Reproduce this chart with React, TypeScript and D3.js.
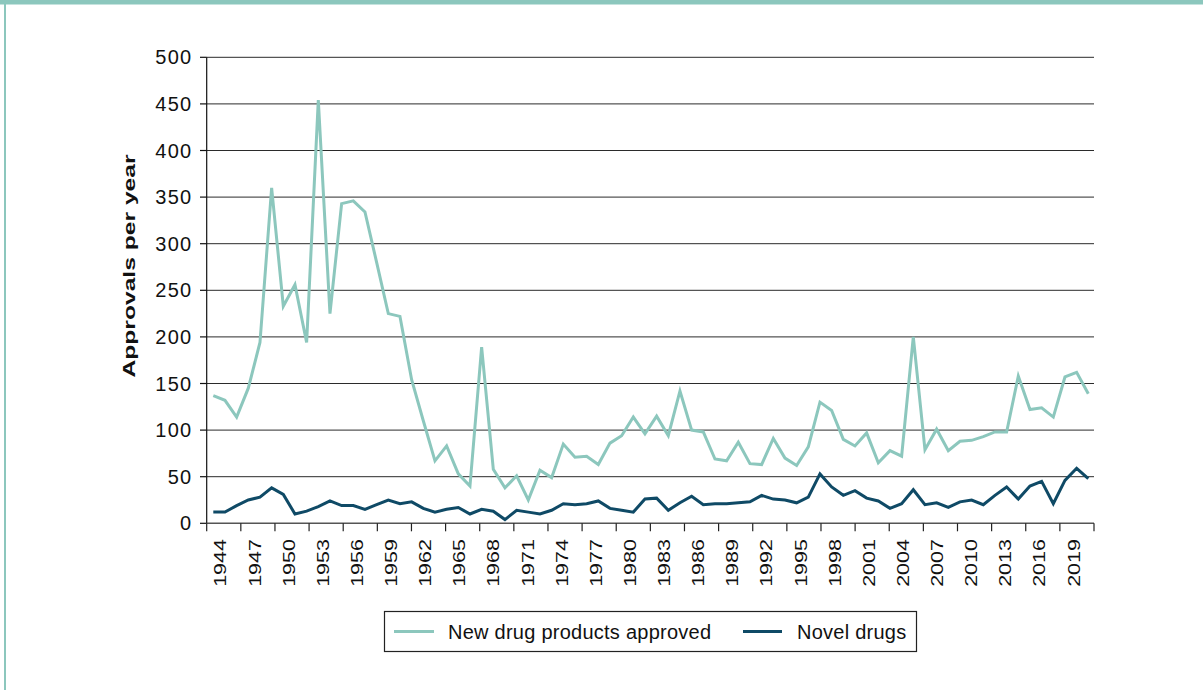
import React from "react";
import * as d3 from "d3";

// ---- Data ----
const years: number[] = d3.range(1944, 2020); // 1944..2019
const axisCategories: number[] = d3.range(1944, 2022); // category axis 1944..2021
const tickLabelYears: number[] = axisCategories.filter((y) => (y - 1944) % 3 === 0 && y <= 2019);

const newDrugProducts: number[] = [
  137, 132, 114, 145, 194, 360, 233, 256, 194, 454, 225, 343, 346, 334, 280, 225, 222, 154,
  110, 67, 83, 53, 40, 189, 58, 38, 51, 25, 57, 49, 85, 71, 72, 63, 86, 94,
  114, 96, 115, 94, 142, 100, 98, 69, 67, 87, 64, 63, 91, 70, 62, 82, 130, 121,
  90, 83, 97, 65, 78, 72, 200, 79, 101, 78, 88, 89, 93, 98, 98, 158, 122, 124, 114, 157, 162, 139,
];

const novelDrugs: number[] = [
  12, 12, 19, 25, 28, 38, 31, 10, 13, 18, 24, 19, 19, 15, 20, 25, 21, 23,
  16, 12, 15, 17, 10, 15, 13, 4, 14, 12, 10, 14, 21, 20, 21, 24, 16, 14,
  12, 26, 27, 14, 22, 29, 20, 21, 21, 22, 23, 30, 26, 25, 22, 28, 53, 39,
  30, 35, 27, 24, 16, 21, 36, 20, 22, 17, 23, 25, 20, 30, 39, 26, 40, 45, 21, 46, 59, 48,
];

const yTicks: number[] = [0, 50, 100, 150, 200, 250, 300, 350, 400, 450, 500];

const seriesNames = ["New drug products approved", "Novel drugs"];
const colors = ["#8cc7bd", "#0f4a66"];

const FONT = "'Liberation Sans', Arial, Helvetica, sans-serif";

export default function App() {
  const W = 1203;
  const H = 690;

  const plotLeft = 206.7;
  const plotRight = 1094;
  const plotTop = 57.3;
  const plotBottom = 523.3;

  const x = d3.scaleLinear().domain([1944, 2019]).range([213.3, 1088.3]);
  const xAxis = d3.scaleBand<number>().domain(axisCategories).range([plotLeft, plotRight]);
  const y = d3.scaleLinear().domain([0, 500]).range([plotBottom, plotTop]);

  const line = d3
    .line<number>()
    .x((_, i) => x(years[i]))
    .y((d) => y(d));

  const tickXs: number[] = axisCategories
    .filter((yr) => (yr - 1944) % 3 === 0)
    .map((yr) => xAxis(yr) as number);
  tickXs.push(plotRight);

  return (
    <>
      <style>{`body{margin:0;overflow:hidden;}`}</style>
      <svg
        width={W}
        height={H}
        style={{ position: "absolute", left: 0, top: 0, display: "block", background: "#fff" }}
        fontFamily={FONT}
      >
        {/* frame */}
        <rect x={0} y={0} width={W} height={4.5} fill="#8cc7bd" />
        <rect x={4} y={0} width={2} height={H} fill="#8cc7bd" />

        {/* gridlines */}
        {yTicks
          .filter((t) => t > 0)
          .map((t) => (
            <line
              key={"g" + t}
              x1={plotLeft}
              x2={plotRight}
              y1={y(t)}
              y2={y(t)}
              stroke="#2b2b2b"
              strokeWidth={1}
            />
          ))}

        {/* y axis */}
        <line x1={plotLeft} x2={plotLeft} y1={plotTop} y2={plotBottom} stroke="#111" strokeWidth={1.2} />
        {yTicks.map((t) => (
          <g key={"yt" + t}>
            <line x1={200} x2={plotLeft} y1={y(t)} y2={y(t)} stroke="#111" strokeWidth={1.2} />
            <text
              x={192.5}
              y={y(t)}
              textAnchor="end"
              dominantBaseline="central"
              fontSize={20}
              letterSpacing={1.3}
              fill="#111"
            >
              {t}
            </text>
          </g>
        ))}

        {/* x axis */}
        <line x1={plotLeft} x2={plotRight} y1={plotBottom} y2={plotBottom} stroke="#555" strokeWidth={1.5} />
        {tickXs.map((tx, i) => (
          <line key={"xt" + i} x1={tx} x2={tx} y1={plotBottom} y2={plotBottom + 8} stroke="#222" strokeWidth={1.2} />
        ))}
        {tickLabelYears.map((yr) => {
          const cx = (xAxis(yr) as number) + xAxis.bandwidth() / 2 + 8.5;
          return (
            <text
              key={"xl" + yr}
              transform={`translate(${cx},539) rotate(-90) scale(1.32,1)`}
              textAnchor="end"
              dominantBaseline="central"
              fontSize={16.3}
              fill="#111"
            >
              {yr}
            </text>
          );
        })}

        {/* y axis title */}
        <text
          transform={`translate(129,266) rotate(-90) scale(1.45,1)`}
          textAnchor="middle"
          dominantBaseline="central"
          fontSize={17}
          fontWeight="bold"
          fill="#111"
        >
          Approvals per year
        </text>

        {/* series */}
        <path d={line(newDrugProducts) ?? ""} fill="none" stroke={colors[0]} strokeWidth={3} strokeLinejoin="miter" />
        <path d={line(novelDrugs) ?? ""} fill="none" stroke={colors[1]} strokeWidth={3} strokeLinejoin="miter" />

        {/* legend */}
        <rect x={384.5} y={611.5} width={532} height={40} fill="#fff" stroke="#222" strokeWidth={1.2} />
        <line x1={394} x2={434} y1={631.5} y2={631.5} stroke={colors[0]} strokeWidth={3} />
        <text x={448} y={631.5} dominantBaseline="central" fontSize={20} letterSpacing={0.25} fill="#111">
          {seriesNames[0]}
        </text>
        <line x1={743} x2={782} y1={631.5} y2={631.5} stroke={colors[1]} strokeWidth={3} />
        <text x={797} y={631.5} dominantBaseline="central" fontSize={20} letterSpacing={0.25} fill="#111">
          {seriesNames[1]}
        </text>
      </svg>
    </>
  );
}
